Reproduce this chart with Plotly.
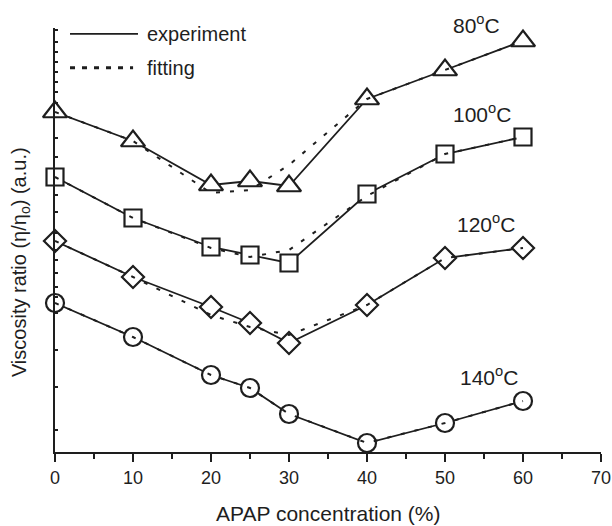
import plotly.graph_objects as go

# APAP concentration (%)
conc = [0, 10, 20, 25, 30, 40, 50, 60]

# viscosity ratio, arbitrary units
exp_80 = [340, 311, 267, 271, 266, 353, 382, 411]
exp_100 = [275, 234, 205, 197, 189, 258, 298, 315]
exp_120 = [211, 175, 145, 129, 109, 147, 194, 204]
exp_140 = [149, 115, 77, 64, 38, 9, 29, 51]

fit_80 = [340, 311, 259, 262, 287, 353, 382, 411]
fit_100 = [275, 234, 204, 195, 202, 256, 298, 315]
fit_120 = [211, 175, 137, 125, 117, 147, 194, 204]
fit_140 = [149, 115, 77, 64, 38, 9, 29, 51]

temps = ["80", "100", "120", "140"]
symbols = ["triangle-up", "square", "diamond", "circle"]
sizes = [21, 17, 17, 18]
# label positions: x in data units, y in paper units
label_x = [54, 54.7, 55.3, 55.7]
label_y = [1.009, 0.800, 0.540, 0.179]

# unlabelled minor ticks on the y axis
y_ticks = [422, 410, 400, 390, 380, 370, 360, 349, 314, 295, 257, 240,
           219, 202, 192, 179, 165, 155, 139, 102, 65, 22]

INK = "#1e1e1e"
FONT = "Liberation Sans, Arial, sans-serif"

fig = go.Figure()

exps = [exp_80, exp_100, exp_120, exp_140]
fits = [fit_80, fit_100, fit_120, fit_140]

for t, e, sym, sz in zip(temps, exps, symbols, sizes):
    fig.add_trace(go.Scatter(
        x=conc, y=e, mode="lines+markers", name=f"{t} experiment",
        line=dict(color=INK, width=1.8),
        marker=dict(symbol=sym, size=sz, color="white",
                    line=dict(color=INK, width=2.2)),
        showlegend=False, cliponaxis=False,
    ))

for t, f in zip(temps, fits):
    fig.add_trace(go.Scatter(
        x=conc, y=f, mode="lines", name=f"{t} fitting",
        line=dict(color=INK, width=2, dash="4px,10px"),
        showlegend=False,
    ))

for t, lx, ly in zip(temps, label_x, label_y):
    fig.add_annotation(x=lx, y=ly, xref="x", yref="paper", text=f"{t}<sup>o</sup>C",
                       xanchor="center", yanchor="middle", showarrow=False,
                       font=dict(size=21, color=INK, family=FONT))

# hand-drawn legend, as in the original figure
fig.add_shape(type="line", xref="paper", yref="paper", x0=0.0275, x1=0.152, y0=0.986, y1=0.986,
              line=dict(color=INK, width=1.8))
fig.add_shape(type="line", xref="paper", yref="paper", x0=0.0275, x1=0.143, y0=0.906, y1=0.906,
              line=dict(color=INK, width=3, dash="5px,7px"))
fig.add_annotation(x=0.165, y=0.986, xref="paper", yref="paper", text="experiment",
                   xanchor="left", yanchor="middle", showarrow=False,
                   font=dict(size=20, color=INK, family=FONT))
fig.add_annotation(x=0.165, y=0.906, xref="paper", yref="paper", text="fitting",
                   xanchor="left", yanchor="middle", showarrow=False,
                   font=dict(size=20, color=INK, family=FONT))

# axis titles
fig.add_annotation(x=-0.064, y=0.448, xref="paper", yref="paper",
                   text="Viscosity ratio (η/η<sub>o</sub>) (a.u.)", textangle=-90,
                   xanchor="center", yanchor="middle", showarrow=False,
                   font=dict(size=20, color=INK, family=FONT))
fig.add_annotation(x=0.5, y=-0.144, xref="paper", yref="paper",
                   text="APAP concentration (%)",
                   xanchor="center", yanchor="middle", showarrow=False,
                   font=dict(size=21, color=INK, family=FONT))

fig.update_xaxes(
    range=[0, 70], tickvals=list(range(0, 71, 10)), ticks="outside", ticklen=8,
    tickwidth=1.8, tickcolor=INK, showline=True, linecolor=INK, linewidth=2,
    showgrid=False, zeroline=False, tickfont=dict(size=18, color=INK, family=FONT),
    automargin=False, ticklabeloverflow="allow",
    minor=dict(tickvals=list(range(5, 70, 10)), ticks="outside", ticklen=5,
               tickwidth=1.8, tickcolor=INK, showgrid=False),
)
fig.update_yaxes(
    range=[0, 424], tickvals=y_ticks, showticklabels=False, ticks="inside",
    ticklen=3, tickwidth=1.5, tickcolor=INK, showline=True, linecolor=INK,
    linewidth=2, showgrid=False, zeroline=False, automargin=False,
)
fig.update_layout(
    width=612, height=526, plot_bgcolor="white", paper_bgcolor="white",
    margin=dict(l=55, r=11, t=28, b=74), font=dict(family=FONT, color=INK),
)

# drop the browser's default body margin so the figure sits at the page corner
fig.write_html("out.html", config={"displayModeBar": False},
               post_script="document.body.style.margin='0px';")
